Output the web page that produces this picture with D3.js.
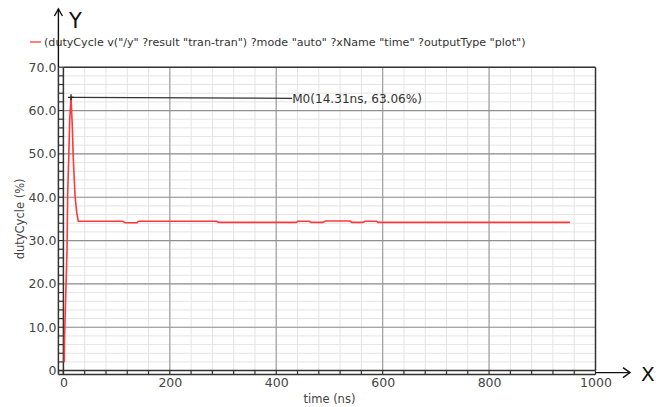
<!DOCTYPE html>
<html>
<head>
<meta charset="utf-8">
<script src="https://cdn.jsdelivr.net/npm/d3@7"></script>
<style>
  html, body { margin: 0; padding: 0; background: #fff; }
  svg { display: block; }
  text { font-family: "DejaVu Sans", sans-serif; }
</style>
</head>
<body>
<svg id="chart" width="669" height="407"></svg>
<script>
// Transient duty cycle waveform (time in ns, duty cycle in %)
const timeNs = [1.7, 2.0, 4.3, 6.8, 8.0, 10.3, 11.9, 14.31, 16.7, 18.6, 21.8, 25.0, 28.0,
  112, 116, 138, 141, 288, 291, 438, 441, 462, 465, 488, 492, 539, 542, 563, 567, 589, 591, 952];
const dutyPct = [1.9, 6.9, 16.9, 27.7, 40.4, 50.3, 58.0, 63.06, 56.5, 49.0, 40.4, 36.5, 34.45,
  34.45, 34.1, 34.1, 34.45, 34.45, 34.2, 34.2, 34.45, 34.45, 34.2, 34.2, 34.5, 34.5, 34.2, 34.2, 34.45, 34.45, 34.2, 34.2];

const xTicks = [0, 200, 400, 600, 800, 1000];
const yTicks = [0, 10, 20, 30, 40, 50, 60, 70];

// Marker M0 at the peak
const markerName = "M0";
const markerTime = 14.31;
const markerValue = 63.06;

const legendText = '(dutyCycle v("/y" ?result "tran-tran") ?mode "auto" ?xName "time" ?outputType "plot")';
const xTitle = "time (ns)";
const yTitle = "dutyCycle (%)";

const svg = d3.select("#chart");

const plot = { left: 63.4, right: 595.5, top: 67.2, bottom: 370.6 };
const x = d3.scaleLinear().domain([0, 1000]).range([plot.left, plot.right]);
const y = d3.scaleLinear().domain([0, 70]).range([plot.bottom, plot.top]);

const xMinor = d3.range(0, 1000.1, 40);
const yMinor = d3.range(0, 70.1, 2);

// minor grid
const grid = svg.append("g");
grid.selectAll(".vmin").data(xMinor).join("line")
  .attr("x1", d => x(d)).attr("x2", d => x(d))
  .attr("y1", plot.top).attr("y2", plot.bottom)
  .attr("stroke", "#e4e4e4").attr("stroke-width", 1);
grid.selectAll(".hmin").data(yMinor).join("line")
  .attr("x1", plot.left).attr("x2", plot.right)
  .attr("y1", d => y(d)).attr("y2", d => y(d))
  .attr("stroke", "#e4e4e4").attr("stroke-width", 1);

// major grid
grid.selectAll(".vmaj").data(xTicks.slice(1, -1)).join("line")
  .attr("x1", d => x(d)).attr("x2", d => x(d))
  .attr("y1", plot.top).attr("y2", plot.bottom)
  .attr("stroke", "#a0a0a0").attr("stroke-width", 1.2);
grid.selectAll(".hmaj").data(yTicks.slice(1, -1)).join("line")
  .attr("x1", plot.left).attr("x2", plot.right)
  .attr("y1", d => y(d)).attr("y2", d => y(d))
  .attr("stroke", "#909090").attr("stroke-width", 1.2);

// frame
svg.append("line").attr("x1", plot.left).attr("x2", plot.right)
  .attr("y1", plot.top).attr("y2", plot.top).attr("stroke", "#333").attr("stroke-width", 1.5);
svg.append("line").attr("x1", plot.right).attr("x2", plot.right)
  .attr("y1", plot.top).attr("y2", plot.bottom).attr("stroke", "#333").attr("stroke-width", 1.5);

// left ruler axis (double line with minor ticks)
const axL = svg.append("g");
axL.append("line").attr("x1", plot.left - 5).attr("x2", plot.left - 5)
  .attr("y1", plot.top).attr("y2", plot.bottom + 4).attr("stroke", "#333").attr("stroke-width", 1.5);
axL.append("line").attr("x1", plot.left).attr("x2", plot.left)
  .attr("y1", plot.top).attr("y2", plot.bottom + 4).attr("stroke", "#333").attr("stroke-width", 1.5);
axL.selectAll(".t").data(yMinor).join("line")
  .attr("x1", plot.left - 5).attr("x2", plot.left)
  .attr("y1", d => y(d)).attr("y2", d => y(d))
  .attr("stroke", "#333").attr("stroke-width", 1.2);

// bottom ruler axis
const axB = svg.append("g");
axB.append("line").attr("x1", plot.left - 5).attr("x2", plot.right)
  .attr("y1", plot.bottom).attr("y2", plot.bottom).attr("stroke", "#333").attr("stroke-width", 1.5);
axB.append("line").attr("x1", plot.left - 5).attr("x2", plot.right)
  .attr("y1", plot.bottom + 4).attr("y2", plot.bottom + 4).attr("stroke", "#333").attr("stroke-width", 1.5);
axB.selectAll(".t").data(xMinor).join("line")
  .attr("x1", d => x(d)).attr("x2", d => x(d))
  .attr("y1", plot.bottom).attr("y2", plot.bottom + 4)
  .attr("stroke", "#333").attr("stroke-width", 1.2);

// tick labels
const yAxis = d3.axisLeft(y).tickValues(yTicks).tickSize(0).tickPadding(0)
  .tickFormat(d => d === 0 ? "0" : d3.format(".1f")(d));
const gy = svg.append("g").attr("transform", `translate(${plot.left - 7},0)`).call(yAxis);
gy.select(".domain").remove();
gy.selectAll("text").attr("font-size", 12.5).attr("fill", "#444")
  .attr("font-family", "DejaVu Sans, sans-serif");

const xAxis = d3.axisBottom(x).tickValues(xTicks).tickSize(0).tickPadding(0).tickFormat(d3.format("d"));
const gx = svg.append("g").attr("transform", `translate(0,${plot.bottom + 8})`).call(xAxis);
gx.select(".domain").remove();
gx.selectAll("text").attr("font-size", 12.5).attr("fill", "#444")
  .attr("font-family", "DejaVu Sans, sans-serif");

// axis titles
svg.append("text").attr("x", (plot.left + plot.right) / 2).attr("y", 403)
  .attr("text-anchor", "middle").attr("font-size", 11.5).attr("fill", "#444").text(xTitle);
svg.append("text").attr("transform", `translate(24,${(plot.top + plot.bottom) / 2}) rotate(-90)`)
  .attr("text-anchor", "middle").attr("font-size", 11.5).attr("fill", "#444").text(yTitle);

// waveform
const line = d3.line().x((d, i) => x(timeNs[i])).y((d, i) => y(dutyPct[i]));
svg.append("path").datum(dutyPct).attr("d", line)
  .attr("fill", "none").attr("stroke", "#ff3838").attr("stroke-width", 1.6)
  .attr("stroke-linejoin", "round");

// marker with leader line and label
const mx = x(markerTime), my = y(markerValue);
const labelX = x(430), labelY = my + 1;
svg.append("line").attr("x1", mx).attr("x2", labelX).attr("y1", my).attr("y2", labelY)
  .attr("stroke", "#333").attr("stroke-width", 1.3);
svg.append("path").attr("d", `M${mx - 3},${my}H${mx + 3}M${mx},${my - 3}V${my + 3}`)
  .attr("stroke", "#222").attr("stroke-width", 1.3);
const mLabel = svg.append("text").attr("x", labelX).attr("y", labelY + 5)
  .attr("font-size", 11).attr("fill", "#333")
  .text(`${markerName}(${markerTime}ns, ${markerValue}%)`);
const mw = mLabel.node().getComputedTextLength();
mLabel.attr("font-size", 11 * (130 / mw));

// legend
svg.append("line").attr("x1", 30).attr("x2", 41).attr("y1", 42).attr("y2", 42)
  .attr("stroke", "#ff6060").attr("stroke-width", 1.6);
const leg = svg.append("text").attr("x", 44).attr("y", 46).attr("font-size", 10)
  .attr("fill", "#333").text(legendText);
const lw = leg.node().getComputedTextLength();
leg.attr("font-size", 10 * (482 / lw));

// Y and X arrows
const ax = plot.left - 5;
svg.append("line").attr("x1", ax).attr("x2", ax).attr("y1", 9).attr("y2", plot.top)
  .attr("stroke", "#111").attr("stroke-width", 1.4);
svg.append("path").attr("d", `M${ax - 4},16L${ax},9L${ax + 4},16`)
  .attr("fill", "none").attr("stroke", "#111").attr("stroke-width", 1.4);
svg.append("text").attr("x", 69).attr("y", 28).attr("font-size", 21)
  .attr("font-family", "Liberation Sans, Arial, sans-serif").attr("fill", "#111").text("Y");

const ay = plot.bottom + 2;
svg.append("line").attr("x1", plot.right).attr("x2", 630).attr("y1", ay).attr("y2", ay)
  .attr("stroke", "#111").attr("stroke-width", 1.4);
svg.append("path").attr("d", `M623,${ay - 5}L630,${ay}L623,${ay + 5}`)
  .attr("fill", "none").attr("stroke", "#111").attr("stroke-width", 1.4);
svg.append("text").attr("x", 641).attr("y", ay + 8).attr("font-size", 20)
  .attr("font-family", "Liberation Sans, Arial, sans-serif").attr("fill", "#111").text("X");
</script>
</body>
</html>
